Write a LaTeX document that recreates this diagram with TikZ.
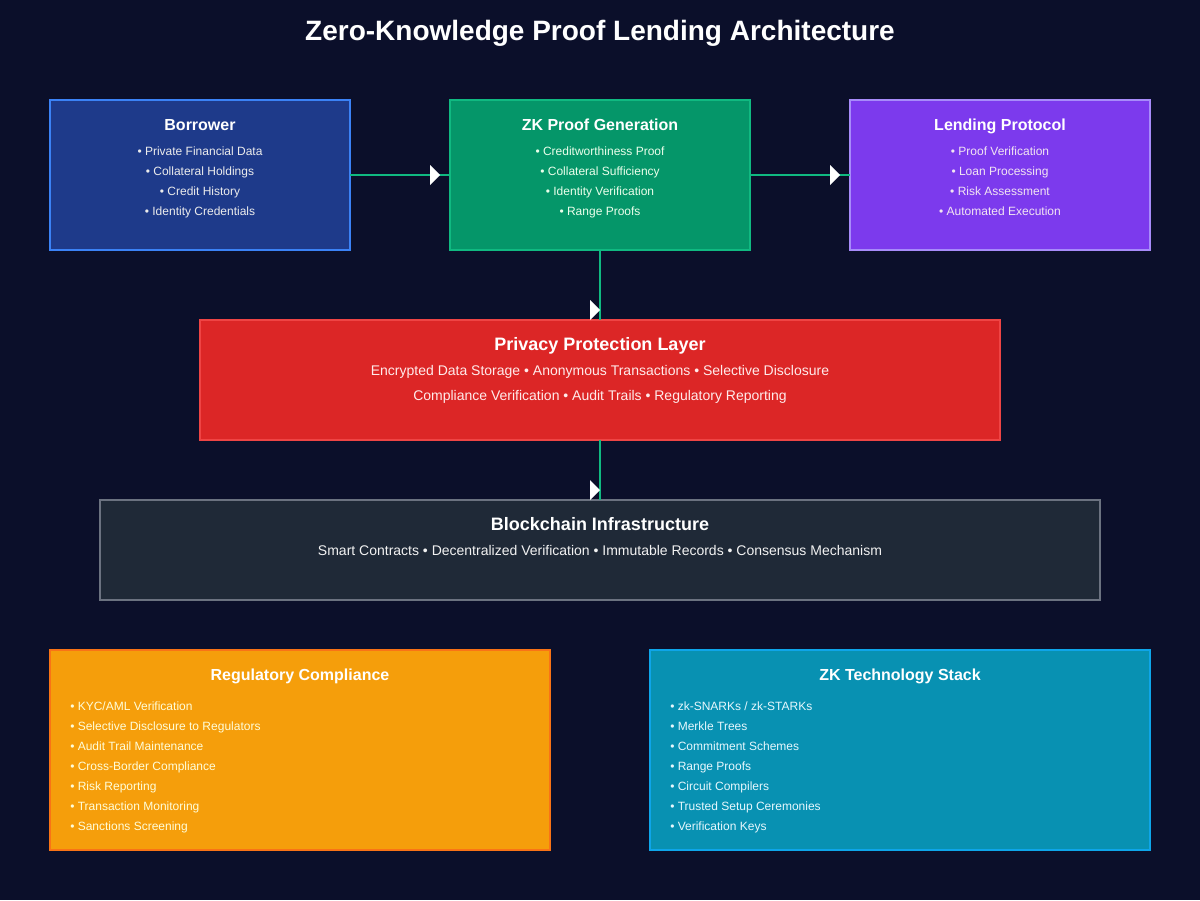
\documentclass[tikz,border=0pt]{standalone}
\usepackage{fontspec}
\setmainfont{Liberation Sans}
\usetikzlibrary{calc}

\definecolor{cBg}{HTML}{0B0F2A}
\definecolor{cLink}{HTML}{10B981}
\definecolor{cBorFill}{HTML}{1E3A8A}
\definecolor{cBorLine}{HTML}{3B82F6}
\definecolor{cGenFill}{HTML}{059669}
\definecolor{cGenLine}{HTML}{10B981}
\definecolor{cLenFill}{HTML}{7C3AED}
\definecolor{cLenLine}{HTML}{A78BFA}
\definecolor{cPrvFill}{HTML}{DC2626}
\definecolor{cPrvLine}{HTML}{EF4444}
\definecolor{cChnFill}{HTML}{1F2937}
\definecolor{cChnLine}{HTML}{6B7280}
\definecolor{cRegFill}{HTML}{F59E0B}
\definecolor{cRegLine}{HTML}{F97316}
\definecolor{cTecFill}{HTML}{0891B2}
\definecolor{cTecLine}{HTML}{0EA5E9}

\tikzset{
  box/.style={rectangle, line width=1.5pt, outer sep=0pt, inner sep=0pt},
  ttl/.style={anchor=base, text=white, inner sep=0pt, font=\bfseries\fontsize{12}{14}\selectfont},
  item/.style={anchor=base, inner sep=0pt, font=\fontsize{9}{11}\selectfont},
  link/.style={draw=cLink, line width=1.5pt}
}

\begin{document}
\begin{tikzpicture}[x=0.75pt, y=-0.75pt]
\newcommand{\tipmark}[1]{\fill[white] (#1) -- ++(-10,-10) -- ++(0,20) -- cycle;}
\fill[cBg] (0,0) rectangle (1200,900);

\node[anchor=base, text=white, inner sep=0pt, font=\bfseries\fontsize{21}{25}\selectfont] (title) at (600,40) {Zero-Knowledge Proof Lending Architecture};

% top row
\node[box, fill=cBorFill, draw=cBorLine, minimum width=225pt, minimum height=112.5pt] (bor) at (200,175) {};
\node[box, fill=cGenFill, draw=cGenLine, minimum width=225pt, minimum height=112.5pt] (gen) at (600,175) {};
\node[box, fill=cLenFill, draw=cLenLine, minimum width=225pt, minimum height=112.5pt] (len) at (1000,175) {};

\node[ttl] (borT) at (200,130) {Borrower};
\node[ttl] (genT) at (600,130) {ZK Proof Generation};
\node[ttl] (lenT) at (1000,130) {Lending Protocol};

\foreach \t [count=\i] in {Private Financial Data, Collateral Holdings, Credit History, Identity Credentials}
{
    \node[item, text=gray!15] (bor\i) at (200,{135+20*\i}) {• \t};
};
\foreach \t [count=\i] in {Creditworthiness Proof, Collateral Sufficiency, Identity Verification, Range Proofs}
{
    \node[item, text=green!8] (gen\i) at (600,{135+20*\i}) {• \t};
};
\foreach \t [count=\i] in {Proof Verification, Loan Processing, Risk Assessment, Automated Execution}
{
    \node[item, text=violet!10] (len\i) at (1000,{135+20*\i}) {• \t};
};

% middle layers
\node[box, fill=cPrvFill, draw=cPrvLine, minimum width=600pt, minimum height=90pt] (prv) at (600,380) {};
\node[ttl, font=\bfseries\fontsize{13.5}{16}\selectfont] (prvT) at (600,350) {Privacy Protection Layer};
\node[item, text=red!8, font=\fontsize{10.5}{13}\selectfont] (prv1) at (600,375) {Encrypted Data Storage • Anonymous Transactions • Selective Disclosure};
\node[item, text=red!8, font=\fontsize{10.5}{13}\selectfont] (prv2) at (600,400) {Compliance Verification • Audit Trails • Regulatory Reporting};

\node[box, fill=cChnFill, draw=cChnLine, minimum width=750pt, minimum height=75pt] (chn) at (600,550) {};
\node[ttl, font=\bfseries\fontsize{13.5}{16}\selectfont] (chnT) at (600,530) {Blockchain Infrastructure};
\node[item, text=gray!10, font=\fontsize{10.5}{13}\selectfont] (chn1) at (600,555) {Smart Contracts • Decentralized Verification • Immutable Records • Consensus Mechanism};

% bottom row
\node[box, fill=cRegFill, draw=cRegLine, minimum width=375pt, minimum height=150pt] (reg) at (300,750) {};
\node[box, fill=cTecFill, draw=cTecLine, minimum width=375pt, minimum height=150pt] (tec) at (900,750) {};
\node[ttl] (regT) at (300,680) {Regulatory Compliance};
\node[ttl] (tecT) at (900,680) {ZK Technology Stack};

\foreach \t [count=\i] in {KYC/AML Verification, Selective Disclosure to Regulators, Audit Trail Maintenance, Cross-Border Compliance, Risk Reporting, Transaction Monitoring, Sanctions Screening}
{
    \node[item, anchor=base west, text=yellow!15] (reg\i) at (70,{690+20*\i}) {• \t};
};
\foreach \t [count=\i] in {zk-SNARKs / zk-STARKs, Merkle Trees, Commitment Schemes, Range Proofs, Circuit Compilers, Trusted Setup Ceremonies, Verification Keys}
{
    \node[item, anchor=base west, text=cyan!10] (tec\i) at (670,{690+20*\i}) {• \t};
};

% connectors
\draw[link] (bor.east) -- (gen.west);
\draw[link] (gen.east) -- (len.west);
\draw[link] (gen.south) -- (prv.north);
\draw[link] (prv.south) -- (chn.north);
\tipmark{$(gen.west)+(-10,0)$}
\tipmark{$(len.west)+(-10,0)$}
\tipmark{$(prv.north)+(0,-10)$}
\tipmark{$(chn.north)+(0,-10)$}

\end{tikzpicture}
\end{document}
